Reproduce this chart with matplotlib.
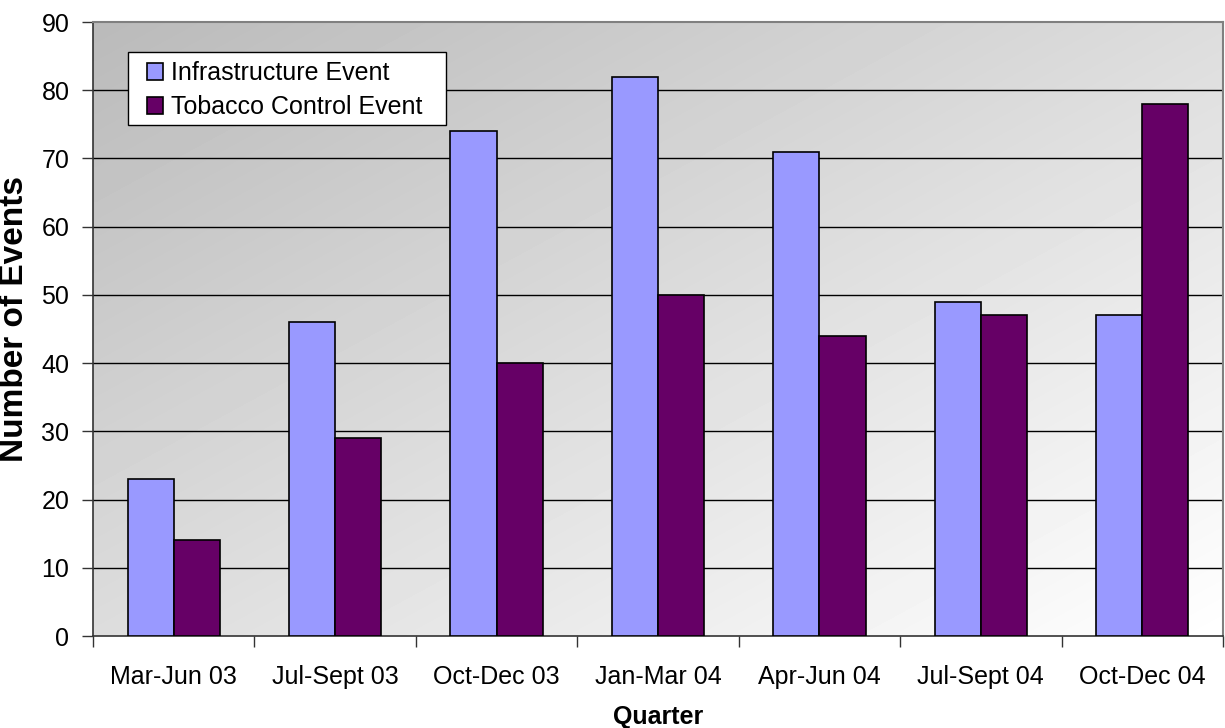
import numpy as np
import matplotlib
matplotlib.use("Agg")
import matplotlib.pyplot as plt
from matplotlib.patches import Rectangle

# data
quarters = ["Mar-Jun 03", "Jul-Sept 03", "Oct-Dec 03", "Jan-Mar 04",
            "Apr-Jun 04", "Jul-Sept 04", "Oct-Dec 04"]
infrastructure = [23, 46, 74, 82, 71, 49, 47]
tobacco = [14, 29, 40, 50, 44, 47, 78]
series_names = ["Infrastructure Event", "Tobacco Control Event"]
yticks = list(range(0, 91, 10))

plt.rcParams["font.family"] = ["Liberation Sans", "DejaVu Sans"]

W, H = 1225, 728
fig = plt.figure(figsize=(W / 100, H / 100), dpi=100)
ax = fig.add_axes([93 / W, 1 - 636 / H, 1130 / W, 614 / H])

# diagonal grey gradient background (dark top-left -> white bottom-right)
gx, gy = np.meshgrid(np.linspace(0, 1, 200), np.linspace(0, 1, 200))
shade = 0.73 + 0.27 * (gx + (1 - gy)) / 2
ax.imshow(shade, cmap="gray", vmin=0, vmax=1, aspect="auto", origin="lower",
          extent=[-0.5, 6.5, 0, 90], zorder=0, interpolation="bilinear")

x = np.arange(len(quarters))
w = 0.286
ax.bar(x - w / 2, infrastructure, w, color="#9999FF", edgecolor="black",
       linewidth=1.2, label=series_names[0], zorder=3)
ax.bar(x + w / 2, tobacco, w, color="#660066", edgecolor="black",
       linewidth=1.2, label=series_names[1], zorder=3)

ax.set_xlim(-0.5, len(quarters) - 0.5)
ax.set_ylim(0, 90)
ax.set_yticks(yticks)
for yv in yticks[1:-1]:
    ax.axhline(yv, color="black", linewidth=1, zorder=1)

ax.set_xticks(np.arange(-0.5, len(quarters), 1))
ax.set_xticklabels([])
ax.set_xticks(x, minor=True)
ax.set_xticklabels(quarters, minor=True)
ax.tick_params(axis="x", which="major", length=8, width=1, color="#333333")
ax.tick_params(axis="x", which="minor", length=0, pad=21, labelsize=18)
ax.tick_params(axis="y", length=8, width=1, color="#333333", pad=9, labelsize=18)

for s in ["top", "right"]:
    ax.spines[s].set_color("#808080")
    ax.spines[s].set_linewidth(1.5)
for s in ["left", "bottom"]:
    ax.spines[s].set_color("#333333")
    ax.spines[s].set_linewidth(1.2)

ax.set_ylabel("Number of Events", fontsize=24, fontweight="bold")
ax.yaxis.set_label_coords(-0.056, 0.516)
ax.set_xlabel("Quarter", fontsize=18, fontweight="bold")
ax.xaxis.set_label_coords(0.5, -0.113)

# legend: white box with black border, entries inset like the reference
fig.add_artist(Rectangle((128 / W, 1 - 125 / H), 318 / W, 73 / H,
                         transform=fig.transFigure, facecolor="white",
                         edgecolor="black", linewidth=1, zorder=4))
handles, labels = ax.get_legend_handles_labels()
leg = fig.legend(handles, labels, loc="upper left",
                 bbox_to_anchor=(147 / W, 1 - 61 / H), borderaxespad=0,
                 fontsize=18, frameon=False, handlelength=0.65,
                 handleheight=0.65, handletextpad=0.3, borderpad=0,
                 labelspacing=0.42)
leg.set_zorder(5)

fig.savefig("out.png", dpi=100)
